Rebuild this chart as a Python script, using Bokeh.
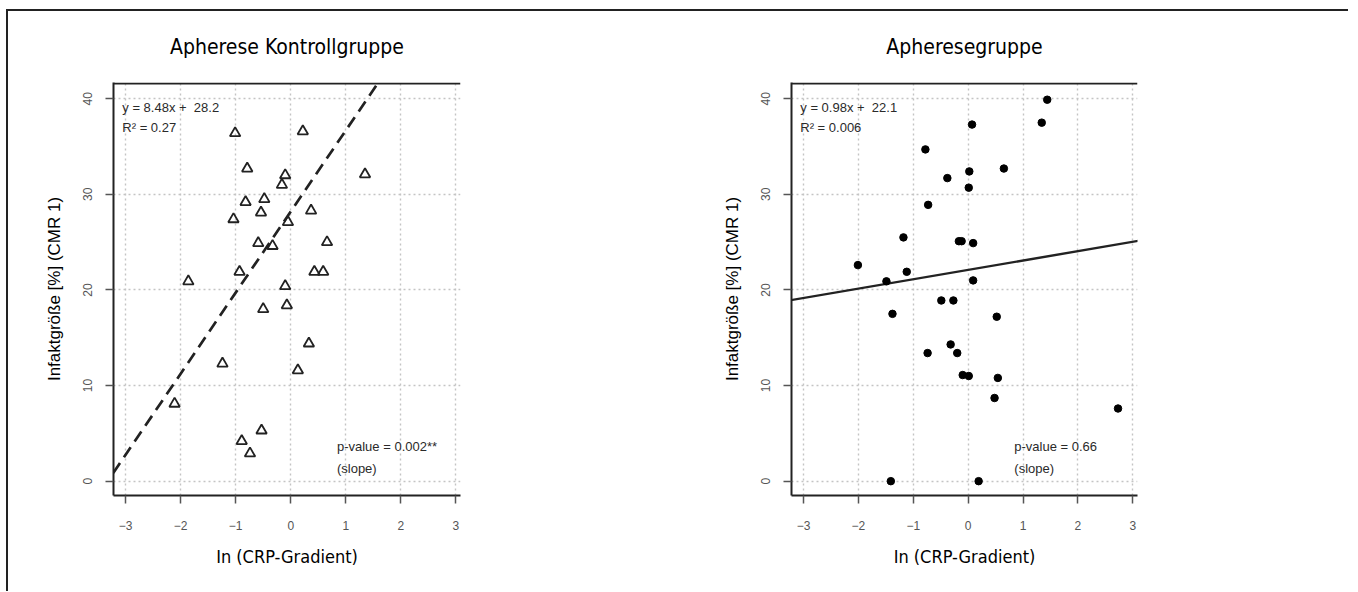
from bokeh.plotting import figure
from bokeh.layouts import row
from bokeh.models import FixedTicker, Label, Range1d, Span
from bokeh.embed import file_html
from bokeh.resources import INLINE

# ---------------- data ----------------
titles = ["Apherese Kontrollgruppe", "Apheresegruppe"]
x_label = "In (CRP-Gradient)"
y_label = "Infaktgröße [%] (CMR 1)"
x_ticks = [-3, -2, -1, 0, 1, 2, 3]
y_ticks = [0, 10, 20, 30, 40]

ctrl_x = [-1.01, 0.22, -0.79, -0.10, -0.16, 1.35, -0.82, -0.48, -0.54, 0.37,
          -1.04, -0.05, -0.59, -0.33, 0.66, -0.93, 0.43, 0.59, -1.86, -0.10,
          -0.50, -0.07, 0.33, -1.24, 0.13, -2.11, -0.53, -0.89, -0.74]
ctrl_y = [36.4, 36.6, 32.7, 32.0, 31.0, 32.1, 29.2, 29.5, 28.1, 28.3,
          27.4, 27.1, 24.9, 24.6, 25.0, 21.9, 21.9, 21.9, 20.9, 20.4,
          18.0, 18.4, 14.4, 12.3, 11.6, 8.1, 5.3, 4.2, 2.9]

aph_x = [1.44, 1.34, 0.07, -0.78, -0.38, 0.02, 0.65, 0.01, -0.73, -1.18,
         -0.17, -0.12, 0.09, -2.01, -1.12, -1.49, 0.09, -0.49, -0.27, -1.38,
         0.52, -0.32, -0.74, -0.20, -0.10, 0.01, 0.54, 0.48, 2.73, -1.41, 0.19]
aph_y = [39.9, 37.5, 37.3, 34.7, 31.7, 32.4, 32.7, 30.7, 28.9, 25.5,
         25.1, 25.1, 24.9, 22.6, 21.9, 20.9, 21.0, 18.9, 18.9, 17.5,
         17.2, 14.3, 13.4, 13.4, 11.1, 11.0, 10.8, 8.7, 7.6, 0.0, 0.0]

ctrl_slope, ctrl_intercept, ctrl_r2, ctrl_p = 8.48, 28.2, "0.27", "0.002**"
aph_slope, aph_intercept, aph_r2, aph_p = 0.98, 22.1, "0.006", "0.66"

# ---------------- style ----------------
COND = "DejaVu Sans Condensed, Roboto"
SANS = "Liberation Sans"
INK = "#222222"
X_RANGE = (-3.22, 3.085)
Y_RANGE = (-1.5, 41.7)


def panel(title, xs, ys, slope, intercept, r2, pval, kind, b_left, b_right):
    p = figure(width=670, height=580,
               x_range=Range1d(*X_RANGE), y_range=Range1d(*Y_RANGE),
               output_backend="svg", toolbar_location=None,
               min_border_left=b_left, min_border_right=b_right,
               min_border_top=71, min_border_bottom=96,
               background_fill_color="white", border_fill_color="white",
               outline_line_color=None)
    p.title.text = title
    p.title.align = "center"
    p.title.vertical_align = "top"
    p.title.text_font = COND
    p.title.text_font_size = "21px"
    p.title.text_font_style = "normal"
    p.title.text_color = "black"
    p.title.standoff = 44

    for ax in (p.xaxis[0], p.yaxis[0]):
        ax.axis_line_color = INK
        ax.axis_line_width = 2
        ax.major_tick_line_color = "#555555"
        ax.major_tick_line_width = 1.5
        ax.major_tick_out = 8
        ax.major_tick_in = 0
        ax.minor_tick_line_color = None
        ax.major_label_text_font = SANS
        ax.major_label_text_font_size = "12px"
        ax.major_label_text_color = "#555555"
        ax.axis_label_text_font_style = "normal"
        ax.axis_label_text_color = "black"
    p.xaxis.axis_label_text_font = COND
    p.xaxis.axis_label_text_font_size = "18px"
    p.yaxis.axis_label_text_font = SANS
    p.yaxis.axis_label_text_font_size = "17px"
    p.xaxis.ticker = FixedTicker(ticks=x_ticks)
    p.yaxis.ticker = FixedTicker(ticks=y_ticks)
    p.xaxis.axis_label = x_label
    p.yaxis.axis_label = y_label
    p.yaxis.major_label_orientation = "vertical"
    p.xaxis.major_label_standoff = 17
    p.yaxis.major_label_standoff = 13
    p.xaxis.axis_label_standoff = 13
    p.yaxis.axis_label_standoff = 17

    # top edge of the box (no right edge, as in the reference)
    p.add_layout(Span(location=Y_RANGE[1] - 0.1, dimension="width",
                      line_color=INK, line_width=2))

    p.xgrid.ticker = FixedTicker(ticks=x_ticks)
    p.ygrid.ticker = FixedTicker(ticks=y_ticks)
    p.grid.grid_line_color = "#c4c4c4"
    p.grid.grid_line_dash = "2 3"
    p.grid.grid_line_width = 1.4

    lx = [-4.0, 4.0]
    ly = [slope * v + intercept for v in lx]
    if kind == "triangle":
        p.line(lx, ly, line_color=INK, line_width=2.7, line_dash="12 7")
        p.scatter(xs, ys, marker="triangle", size=10.5, fill_color=None,
                  line_color=INK, line_width=1.8)
    else:
        p.line(lx, ly, line_color=INK, line_width=2.4)
        p.scatter(xs, ys, marker="circle", size=7.5, fill_color="black",
                  line_color="black")

    txt = dict(text_font=SANS, text_font_size="13px", text_color="#2a2a2a",
               text_baseline="middle")
    p.add_layout(Label(x=-3.06, y=39.1,
                       text=f"y = {slope:.2f}x +\u00a0 {intercept:.1f}", **txt))
    p.add_layout(Label(x=-3.06, y=37.0, text=f"R² = {r2}", **txt))
    p.add_layout(Label(x=0.84, y=3.6, text=f"p-value = {pval}", **txt))
    p.add_layout(Label(x=0.84, y=1.35, text="(slope)", **txt))
    return p


p1 = panel(titles[0], ctrl_x, ctrl_y, ctrl_slope, ctrl_intercept,
           ctrl_r2, ctrl_p, "triangle", 105, 218)
p2 = panel(titles[1], aph_x, aph_y, aph_slope, aph_intercept,
           aph_r2, aph_p, "circle", 113, 211)

layout = row(p1, p2, styles={"border-top": "2px solid #222",
                             "border-left": "2px solid #222",
                             "margin-top": "9px", "margin-left": "6px"})

open("out.html", "w").write(file_html(layout, INLINE))
